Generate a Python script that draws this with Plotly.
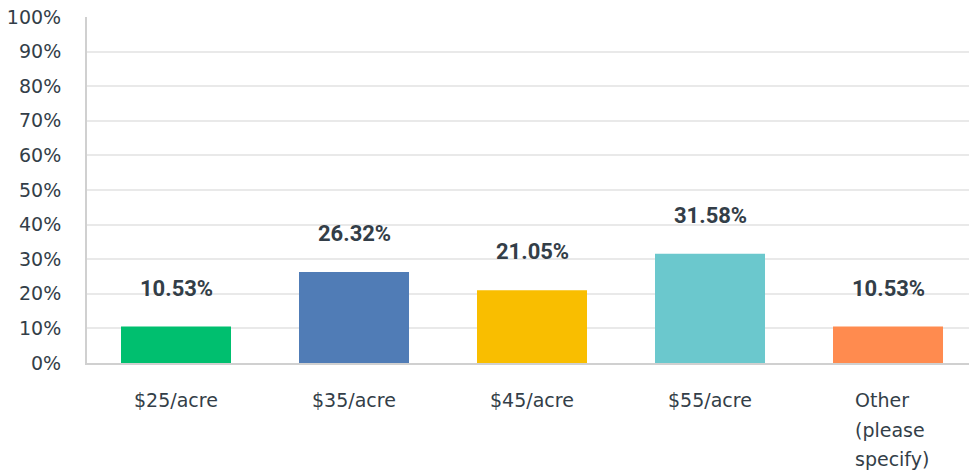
import plotly.graph_objects as go

categories = ["$25/acre", "$35/acre", "$45/acre", "$55/acre", "Other (please specify)"]
label_lines = [["$25/acre"], ["$35/acre"], ["$45/acre"], ["$55/acre"], ["Other", "(please", "specify)"]]
values = [10.53, 26.32, 21.05, 31.58, 10.53]
colors = ["#00BF6F", "#507CB6", "#F9BE00", "#6BC8CD", "#FF8B4F"]
y_ticks = [0, 10, 20, 30, 40, 50, 60, 70, 80, 90, 100]
y_tick_labels = [f"{t}%" for t in y_ticks]

TEXT = "#333E48"
FONT = "DejaVu Sans, Arial, sans-serif"
BOLD_FONT = "Roboto, Arial, sans-serif"

fig = go.Figure()
fig.add_trace(go.Bar(
    x=list(range(len(categories))), y=values,
    marker=dict(color=colors, line=dict(width=0)),
    hoverinfo="skip", showlegend=False,
))

ann = []
for i, v in enumerate(values):
    ann.append(dict(x=i, y=v, xref="x", yref="y", text=f"<b>{v:.2f}%</b>",
                    showarrow=False, yanchor="bottom", yshift=24,
                    font=dict(size=22, color=TEXT, family=BOLD_FONT)))
for i, lines in enumerate(label_lines):
    for j, line in enumerate(lines):
        ann.append(dict(x=i, y=0, xref="x", yref="paper", text=line,
                        showarrow=False, yanchor="top", yshift=-24 - 29.5 * j,
                        xanchor="left" if len(lines) > 1 else "center",
                        xshift=-35 if len(lines) > 1 else 0,
                        font=dict(size=19, color=TEXT, family=FONT)))

fig.update_layout(
    width=969, height=470,
    margin=dict(l=87, r=0, t=17, b=107),
    paper_bgcolor="white", plot_bgcolor="white",
    bargap=0.382,
    font=dict(family=FONT, color=TEXT),
    annotations=ann,
    xaxis=dict(range=[-0.5, 4.455], showticklabels=False, showgrid=False,
               zeroline=False, showline=True, linecolor="#D0D0D0", linewidth=2,
               ticks="", fixedrange=True),
    yaxis=dict(range=[0, 100], tickvals=y_ticks, ticktext=y_tick_labels,
               showgrid=True, gridcolor="#E9E9E9", gridwidth=1.5,
               zeroline=False, showline=True, linecolor="#D0D0D0", linewidth=2,
               ticks="", ticklabelstandoff=20,
               tickfont=dict(size=19, color=TEXT, family=FONT), fixedrange=True),
)

fig.write_html("out.html", config={"displayModeBar": False},
               post_script="document.body.style.margin='0';document.body.style.overflow='hidden';")
